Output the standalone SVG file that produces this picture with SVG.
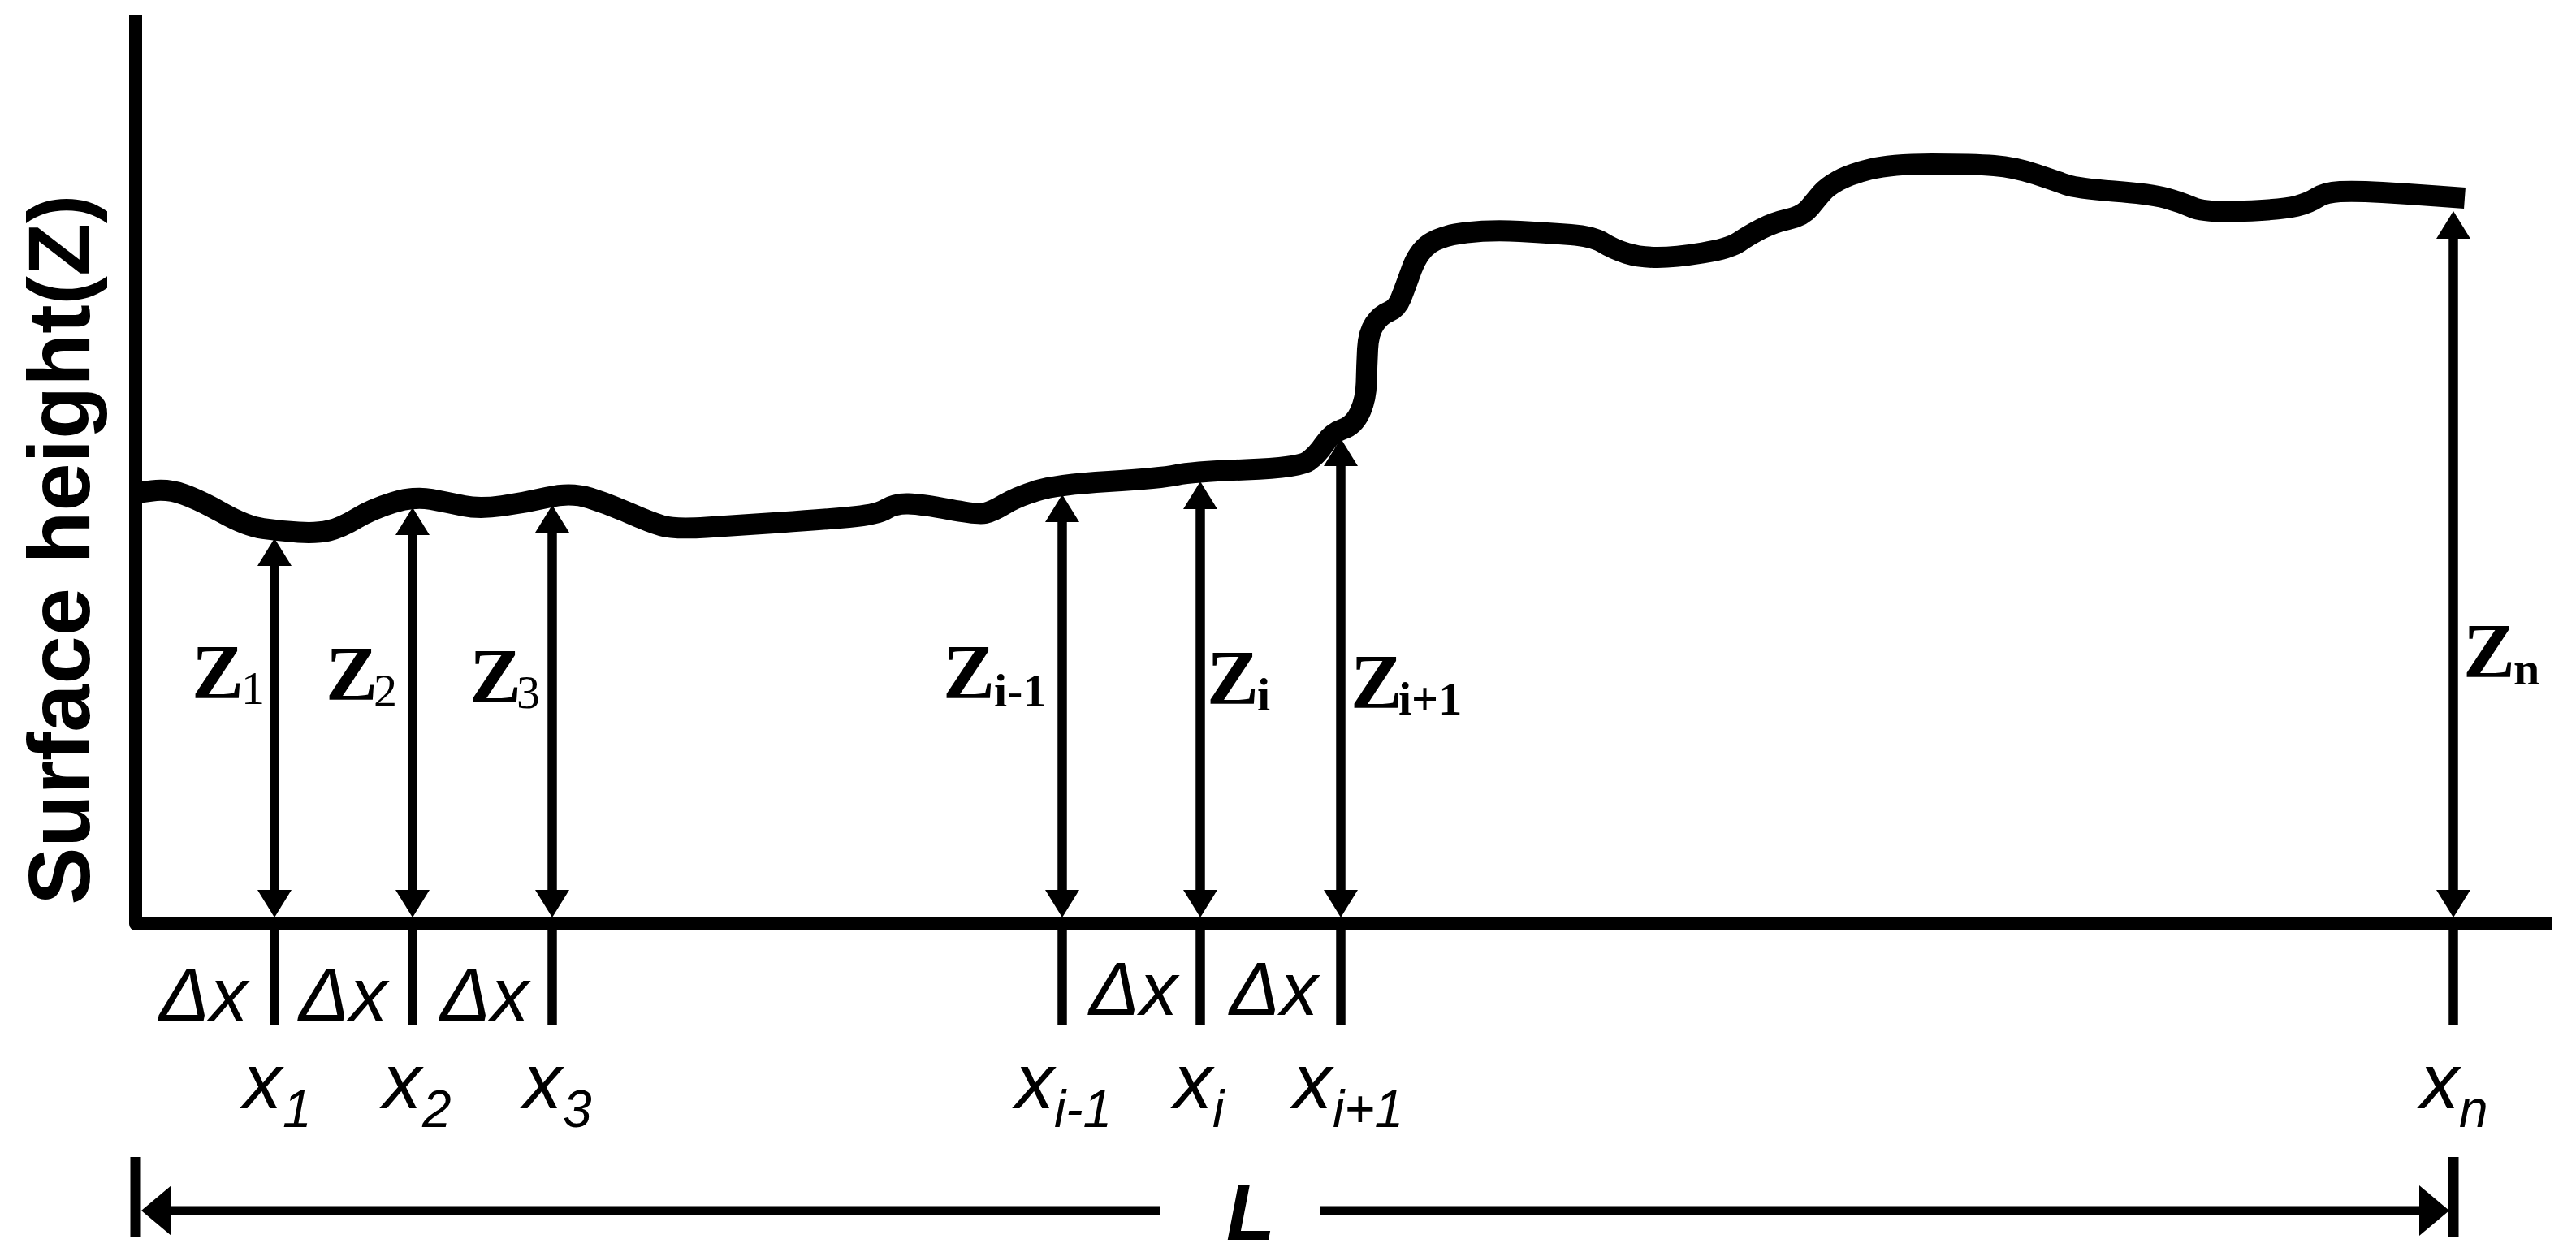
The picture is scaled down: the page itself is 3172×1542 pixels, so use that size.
<svg xmlns="http://www.w3.org/2000/svg" width="3172" height="1542" viewBox="0 0 3172 1542">
<defs>
<style>
.ax{fill:none;stroke:#000;stroke-width:16;stroke-linejoin:round}
.prof{fill:none;stroke:#000;stroke-width:26;stroke-linejoin:round;stroke-linecap:butt}
.arr{stroke:#000;stroke-width:11.5;marker-start:url(#ah);marker-end:url(#ah)}
.tick{stroke:#000;stroke-width:11.5}
.dim{stroke:#000;stroke-width:11}
.bar{stroke:#000;stroke-width:13}
.zl{font-family:"Liberation Serif","Times New Roman",serif;font-weight:bold;font-size:96px;fill:#000}
.zs{font-size:58px;font-weight:normal}
.zsb{font-size:58px;font-weight:bold}
.xl{font-family:"Liberation Sans",Arial,sans-serif;font-style:italic;font-size:96px;fill:#000}
.xs{font-size:64px}
.dx{font-family:"Liberation Sans",Arial,sans-serif;font-style:italic;font-size:93px;fill:#000}
.yl{font-family:"Liberation Sans",Arial,sans-serif;font-weight:bold;font-size:107px;fill:#000}
.Ll{font-family:"Liberation Sans",Arial,sans-serif;font-weight:bold;font-style:italic;font-size:98px;fill:#000}
</style>
<marker id="ah" viewBox="0 0 34 42" markerWidth="34" markerHeight="42" markerUnits="userSpaceOnUse" refX="22" refY="21" orient="auto-start-reverse">
<path d="M0,0 L34,21 L0,42 z" fill="#000"/>
</marker>
<marker id="ahL" viewBox="0 0 37 62" markerWidth="37" markerHeight="62" markerUnits="userSpaceOnUse" refX="29" refY="31" orient="auto-start-reverse">
<path d="M0,0 L37,31 L0,62 z" fill="#000"/>
</marker>
</defs>
<rect width="3172" height="1542" fill="#fff"/>

<g id="axes">
<path class="ax" d="M167,18 V1138 H3142"/>
<text class="yl" transform="translate(110,677) rotate(-90)" text-anchor="middle" textLength="875" lengthAdjust="spacingAndGlyphs">Surface height(Z)</text>
</g>

<g id="profile">
<path class="prof" d="M168,607 L187.5,604.5 Q207,602 226.5,609 Q246,616 274.5,632 Q303,648 324,651 Q345,654 367.5,655.5 Q390,657 405,653.5 Q420,650 439,638.5 Q458,627 484,619 Q510,611 531,615 Q552,619 571,623 Q590,627 618.5,623 Q647,619 675,612.5 Q703,606 726.5,613.5 Q750,621 775,632 Q800,643 815,647.5 Q830,652 870,649.5 Q910,647 960.5,643.5 Q1011,640 1045.5,637 Q1080,634 1091,627 Q1102,620 1118.5,620.5 Q1135,621 1169.5,627.5 Q1204,634 1213,632 Q1222,630 1237,621 Q1252,612 1276,604.5 Q1300,597 1365,593 Q1430,589 1449,585 Q1468,581 1534,578.5 Q1600,576 1611,568 Q1622,560 1631,546.5 Q1640,533 1653.5,528.5 Q1667,524 1674.5,508 Q1682,492 1682.5,471 Q1683,450 1684,430 Q1685,410 1692.5,399 Q1700,388 1710,384 Q1720,380 1725,367.5 Q1730,355 1738,332.5 Q1746,310 1760.5,300 Q1775,290 1805.5,286.5 Q1836,283 1871.5,285 Q1907,287 1934,289 Q1961,291 1974,299 Q1987,307 2003,312 Q2019,317 2041,317 Q2063,317 2096.5,311.5 Q2130,306 2141.5,298 Q2153,290 2168.5,282 Q2184,274 2202,270 Q2220,266 2228.5,255.5 Q2237,245 2243.5,237.5 Q2250,230 2263.5,222.5 Q2277,215 2302.5,208.5 Q2328,202 2379,202 Q2430,202 2455.5,204 Q2481,206 2506.5,214.5 Q2532,223 2544.5,227.5 Q2557,232 2603,235.5 Q2649,239 2667,244 Q2685,249 2700,255.5 Q2715,262 2763.5,260 Q2812,258 2827.5,254 Q2843,250 2853,243.5 Q2863,237 2881.5,236 Q2900,235 2933.5,237 Q2967,239 3001,241.5 L3035,244"/>
</g>

<g id="connectors">
<line class="arr" x1="338" y1="675" x2="338" y2="1118"/>
<line class="arr" x1="508" y1="637" x2="508" y2="1118"/>
<line class="arr" x1="680" y1="634" x2="680" y2="1118"/>
<line class="arr" x1="1308" y1="621" x2="1308" y2="1118"/>
<line class="arr" x1="1478" y1="605" x2="1478" y2="1118"/>
<line class="arr" x1="1651" y1="552" x2="1651" y2="1118"/>
<line class="arr" x1="3021" y1="272" x2="3021" y2="1118"/>
<line class="tick" x1="338" y1="1130" x2="338" y2="1262"/>
<line class="tick" x1="508" y1="1130" x2="508" y2="1262"/>
<line class="tick" x1="680" y1="1130" x2="680" y2="1262"/>
<line class="tick" x1="1308" y1="1130" x2="1308" y2="1262"/>
<line class="tick" x1="1478" y1="1130" x2="1478" y2="1262"/>
<line class="tick" x1="1651" y1="1130" x2="1651" y2="1262"/>
<line class="tick" x1="3021" y1="1130" x2="3021" y2="1262"/>
<line class="bar" x1="167" y1="1425" x2="167" y2="1523"/>
<line class="bar" x1="3021" y1="1425" x2="3021" y2="1523"/>
<line class="dim" x1="182" y1="1491" x2="1428" y2="1491" marker-start="url(#ahL)"/>
<line class="dim" x1="1625" y1="1491" x2="3008" y2="1491" marker-end="url(#ahL)"/>
</g>

<g id="z-labels">
<text class="zl" x="236" y="860">Z<tspan class="zs" x="297" y="867">1</tspan></text>
<text class="zl" x="401" y="862">Z<tspan class="zs" x="460" y="870">2</tspan></text>
<text class="zl" x="578" y="865">Z<tspan class="zs" x="636" y="872">3</tspan></text>
<text class="zl" x="1161" y="860">Z<tspan class="zsb" x="1224" y="870">i-1</tspan></text>
<text class="zl" x="1486" y="867">Z<tspan class="zsb" x="1548" y="875">i</tspan></text>
<text class="zl" x="1663" y="872">Z<tspan class="zsb" x="1722" y="880">i+1</tspan></text>
<text class="zl" x="3033" y="834">Z<tspan class="zsb" x="3095" y="843">n</tspan></text>
</g>

<g id="dx-labels">
<text class="dx" x="196" y="1257">Δx</text>
<text class="dx" x="368" y="1257">Δx</text>
<text class="dx" x="542" y="1257">Δx</text>
<text class="dx" x="1341" y="1250">Δx</text>
<text class="dx" x="1514" y="1250">Δx</text>
</g>

<g id="x-labels">
<text class="xl" x="299" y="1365">x<tspan class="xs" x="348" y="1388">1</tspan></text>
<text class="xl" x="471" y="1365">x<tspan class="xs" x="520" y="1388">2</tspan></text>
<text class="xl" x="644" y="1365">x<tspan class="xs" x="693" y="1388">3</tspan></text>
<text class="xl" x="1250" y="1365">x<tspan class="xs" x="1298" y="1388">i-1</tspan></text>
<text class="xl" x="1445" y="1365">x<tspan class="xs" x="1493" y="1388">i</tspan></text>
<text class="xl" x="1592" y="1365">x<tspan class="xs" x="1641" y="1388">i+1</tspan></text>
<text class="xl" x="2980" y="1365">x<tspan class="xs" x="3028" y="1388">n</tspan></text>
</g>

<g id="length-label">
<text class="Ll" x="1510" y="1527">L</text>
</g>
</svg>
